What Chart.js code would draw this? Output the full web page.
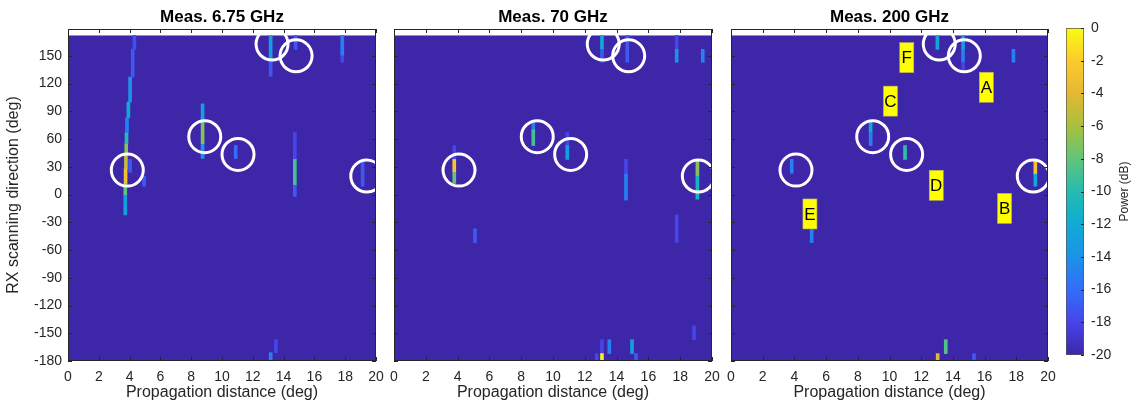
<!DOCTYPE html>
<html>
<head>
<meta charset="utf-8">
<script src="https://cdn.jsdelivr.net/npm/chart.js@4"></script>
<style>
  body { margin: 0; background: #fff; }
  .box { position: absolute; top: 0; height: 405px; }
</style>
</head>
<body>
<div class="box" style="left:0;width:392px"><canvas id="p1"></canvas></div>
<div class="box" style="left:380px;width:348px"><canvas id="p2"></canvas></div>
<div class="box" style="left:716px;width:348px"><canvas id="p3"></canvas></div>
<div class="box" style="left:1052px;width:85px"><canvas id="cbar"></canvas></div>
<script>
const X_TICKS = [0, 2, 4, 6, 8, 10, 12, 14, 16, 18, 20];
const Y_TICKS = [-180, -150, -120, -90, -60, -30, 0, 30, 60, 90, 120, 150];
const CB_TICKS = [-20, -18, -16, -14, -12, -10, -8, -6, -4, -2, 0];
const TITLES = ['Meas. 6.75 GHz', 'Meas. 70 GHz', 'Meas. 200 GHz'];
const DATA_TOP = 172;

// streaks: distance, angle from, angle to, power (dB)
const P1_X    = [3.72, 3.72, 3.74, 3.76, 3.78, 3.80, 3.83, 3.92, 4.03, 4.20, 4.31, 4.03, 4.94, 8.74, 8.74, 8.74, 10.89, 13.16, 13.16, 14.78, 17.81, 17.81, 14.73, 14.73, 14.73, 19.13, 13.16, 13.5];
const P1_FROM = [-22, 0, 12, 28, 42, 55, 67, 83, 100, 127, 157, 24, 9, 39, 55, 78, 39, 144, 128, 157, 150, 143, 38, 10, -2, 9, -180, -171];
const P1_TO   = [0, 12, 28, 42, 55, 67, 83, 100, 127, 157, 172, 38, 20, 55, 78, 98, 53, 172, 144, 172, 172, 150, 67, 38, 10, 35, -171, -157];
const P1_DB   = [-13, -8, -3, -5, -7, -10, -15, -12, -14, -17, -17.5, -17, -17, -14, -7, -13, -16, -13, -17, -17, -15, -18, -18, -9, -17, -17, -15, -18];

const P2_X    = [3.79, 3.79, 3.79, 8.76, 8.76, 10.9, 10.9, 13.08, 13.08, 14.67, 17.78, 17.78, 19.42, 14.59, 14.59, 19.08, 19.08, 5.09, 17.78, 18.87, 13.08, 13.08, 12.75, 13.54, 14.97, 15.22];
const P2_FROM = [38, 24, 12, 70, 53, 53, 38, 157, 143, 143, 157, 143, 143, 22, -6, 20, -5, -52, -52, -157, -172, -180, -180, -172, -172, -180];
const P2_TO   = [53, 38, 24, 78, 70, 67, 53, 172, 157, 172, 172, 157, 157, 38, 22, 36, 20, -37, -22, -142, -157, -172, -172, -157, -157, -172];
const P2_DB   = [-18, -2.5, -8, -15, -9, -18, -13, -12, -17, -17, -18, -14, -15, -18, -15, -7, -11, -17, -18, -18, -18, -0.5, -18, -15, -13, -17];

const P3_X    = [3.83, 8.81, 8.81, 10.98, 13.02, 14.64, 14.64, 14.64, 17.82, 19.2, 19.2, 5.09, 13.55, 13.04, 15.33];
const P3_FROM = [23, 67, 53, 38, 157, 157, 143, 132, 143, 22, 9, -52, -172, -180, -180];
const P3_TO   = [38, 78, 67, 53, 172, 172, 157, 143, 157, 36, 22, -38, -157, -172, -172];
const P3_DB   = [-15, -12, -15, -9.5, -12.5, -13, -15, -18, -15, -3, -12.5, -15, -8.5, -4, -17];

// white rings
const CIRCLE_Y    = [26.4, 62.6, 43.4, 162.7, 150, 20];
const P1_CIRCLE_X = [3.85, 8.88, 11.04, 13.25, 14.81, 19.4];
const P2_CIRCLE_X = [4.09, 9.01, 11.11, 13.16, 14.76, 19.14];
const P3_CIRCLE_X = [4.10, 8.94, 11.08, 13.14, 14.72, 19.07];

// yellow tags on the 200 GHz panel
const TAG_TEXT = ['F', 'A', 'C', 'D', 'E', 'B'];
const TAG_X    = [11.09, 16.11, 10.06, 12.95, 4.98, 17.26];
const TAG_Y    = [148, 116, 101, 10, -21, -15];

const PARULA = [
  [0.0, 62, 38, 168], [0.1, 71, 68, 234], [0.2, 50, 110, 250], [0.3, 28, 146, 232],
  [0.4, 14, 172, 212], [0.5, 36, 187, 176], [0.6, 98, 196, 120], [0.7, 168, 192, 62],
  [0.8, 228, 184, 52], [0.9, 253, 202, 44], [1.0, 249, 251, 20]
];

function parula(db) {
  const t = Math.min(1, Math.max(0, (db + 20) / 20));
  for (let i = 1; i < PARULA.length; i++) {
    if (t <= PARULA[i][0]) {
      const a = PARULA[i - 1], b = PARULA[i];
      const f = (t - a[0]) / (b[0] - a[0]);
      const c = [1, 2, 3].map(k => Math.round(a[k] + (b[k] - a[k]) * f));
      return `rgb(${c[0]},${c[1]},${c[2]})`;
    }
  }
  return 'rgb(249,251,20)';
}

const AXIS_COLOR = '#262626';
const FONT = "'Liberation Sans', Arial, sans-serif";

function noPad(axis) {
  axis.paddingLeft = 0;
  axis.paddingRight = 0;
  axis.paddingTop = 0;
  axis.paddingBottom = 0;
}

function makePanel(id, idx, xs, from, to, db, circleX, leftWidth, withTags) {
  const decor = {
    id: 'decor' + idx,
    beforeDatasetsDraw(chart) {
      const {ctx, scales: {x, y}} = chart;
      const x0 = x.getPixelForValue(0), x1 = x.getPixelForValue(20);
      const yb = y.getPixelForValue(-180), yt = y.getPixelForValue(DATA_TOP);
      ctx.save();
      ctx.fillStyle = parula(-20);
      ctx.fillRect(x0, yt, x1 - x0, yb - yt);
      ctx.restore();
    },
    afterDatasetsDraw(chart) {
      const {ctx, chartArea: a, scales: {x, y}} = chart;
      ctx.save();
      if (withTags) {
        ctx.font = '17px ' + FONT;
        ctx.textAlign = 'center';
        ctx.textBaseline = 'middle';
        TAG_TEXT.forEach((t, i) => {
          const px = x.getPixelForValue(TAG_X[i]), py = y.getPixelForValue(TAG_Y[i]);
          ctx.fillStyle = '#ffff00';
          ctx.fillRect(px - 7, py - 15, 14, 30);
          ctx.strokeStyle = '#b8b060';
          ctx.lineWidth = 0.6;
          ctx.strokeRect(px - 7, py - 15, 14, 30);
          ctx.fillStyle = '#000';
          ctx.fillText(t, px, py + 1);
        });
      }
      ctx.strokeStyle = AXIS_COLOR;
      ctx.lineWidth = 1;
      ctx.beginPath();
      X_TICKS.forEach(v => {
        const px = Math.round(x.getPixelForValue(v)) + 0.5;
        ctx.moveTo(px, a.bottom); ctx.lineTo(px, a.bottom - 4);
        ctx.moveTo(px, a.top); ctx.lineTo(px, a.top + 4);
      });
      Y_TICKS.forEach(v => {
        const py = Math.round(y.getPixelForValue(v)) + 0.5;
        ctx.moveTo(a.left, py); ctx.lineTo(a.left + 4, py);
        ctx.moveTo(a.right, py); ctx.lineTo(a.right - 4, py);
      });
      ctx.stroke();
      ctx.strokeRect(a.left + 0.5, a.top + 0.5, a.right - a.left - 1, a.bottom - a.top - 1);
      ctx.restore();
    }
  };

  return new Chart(document.getElementById(id), {
    type: 'bar',
    data: {
      datasets: [
        {
          type: 'scatter',
          data: circleX.map((v, i) => ({x: v, y: CIRCLE_Y[i]})),
          pointRadius: 16,
          pointBorderWidth: 3,
          pointBorderColor: '#ffffff',
          pointBackgroundColor: 'rgba(0,0,0,0)',
          clip: 0,
          order: 0
        },
        {
          data: xs.map((v, i) => ({x: v, y: [from[i], to[i]]})),
          backgroundColor: db.map(parula),
          borderWidth: 0,
          barThickness: 3,
          grouped: false,
          clip: 0,
          order: 1
        }
      ]
    },
    options: {
      responsive: true,
      maintainAspectRatio: false,
      animation: false,
      layout: {padding: {right: 16}, autoPadding: false},
      plugins: {
        legend: {display: false},
        tooltip: {enabled: false},
        title: {
          display: true,
          text: TITLES[idx],
          fullSize: false,
          color: '#000',
          font: {family: FONT, size: 17, weight: 'bold', lineHeight: 1},
          padding: {top: 9, bottom: 3}
        }
      },
      scales: {
        x: {
          type: 'linear',
          min: 0,
          max: 20,
          offset: false,
          grid: {display: false, drawTicks: false},
          border: {display: false},
          afterBuildTicks: axis => { axis.ticks = X_TICKS.map(v => ({value: v})); },
          afterFit: axis => { axis.height = 44; noPad(axis); },
          ticks: {color: AXIS_COLOR, font: {family: FONT, size: 14}, padding: 8, maxRotation: 0, autoSkip: false},
          title: {
            display: true,
            text: 'Propagation distance (deg)',
            color: AXIS_COLOR,
            font: {family: FONT, size: 16},
            padding: {top: 0, bottom: 3}
          }
        },
        y: {
          type: 'linear',
          min: -180,
          max: 179,
          grid: {display: false, drawTicks: false},
          border: {display: false},
          afterBuildTicks: axis => { axis.ticks = Y_TICKS.map(v => ({value: v})); },
          afterFit: axis => { axis.width = leftWidth; noPad(axis); },
          ticks: {display: idx === 0, color: AXIS_COLOR, font: {family: FONT, size: 14}, padding: 6, autoSkip: false},
          title: {
            display: idx === 0,
            text: 'RX scanning direction (deg)',
            color: AXIS_COLOR,
            font: {family: FONT, size: 16},
            padding: {top: 4, bottom: 0}
          }
        }
      }
    },
    plugins: [decor]
  });
}

makePanel('p1', 0, P1_X, P1_FROM, P1_TO, P1_DB, P1_CIRCLE_X, 68, false);
makePanel('p2', 1, P2_X, P2_FROM, P2_TO, P2_DB, P2_CIRCLE_X, 14, false);
makePanel('p3', 2, P3_X, P3_FROM, P3_TO, P3_DB, P3_CIRCLE_X, 15, true);

// colorbar
const cbDecor = {
  id: 'cbDecor',
  afterDatasetsDraw(chart) {
    const {ctx, chartArea: a, scales: {y}} = chart;
    ctx.save();
    ctx.strokeStyle = AXIS_COLOR;
    ctx.lineWidth = 1;
    ctx.beginPath();
    CB_TICKS.forEach(v => {
      const py = Math.round(y.getPixelForValue(v)) + 0.5;
      ctx.moveTo(a.right, py); ctx.lineTo(a.right - 3, py);
    });
    ctx.stroke();
    ctx.translate(73, (a.top + a.bottom) / 2);
    ctx.rotate(-Math.PI / 2);
    ctx.fillStyle = AXIS_COLOR;
    ctx.font = '12px ' + FONT;
    ctx.textAlign = 'center';
    ctx.textBaseline = 'middle';
    ctx.fillText('Power (dB)', 0, 0);
    ctx.restore();
  }
};

new Chart(document.getElementById('cbar'), {
  type: 'bar',
  data: {
    labels: ['Power'],
    datasets: [{
      data: [[-20, 0]],
      backgroundColor: ctx => {
        const area = ctx.chart.chartArea;
        if (!area) return parula(-20);
        const g = ctx.chart.ctx.createLinearGradient(0, area.bottom, 0, area.top);
        PARULA.forEach(s => g.addColorStop(s[0], `rgb(${s[1]},${s[2]},${s[3]})`));
        return g;
      },
      borderColor: '#555',
      borderWidth: 1,
      borderSkipped: false,
      barPercentage: 1,
      categoryPercentage: 1
    }]
  },
  options: {
    responsive: true,
    maintainAspectRatio: false,
    animation: false,
    layout: {padding: {left: 14, top: 28, bottom: 50}, autoPadding: false},
    plugins: {legend: {display: false}, tooltip: {enabled: false}},
    scales: {
      x: {display: false},
      y: {
        position: 'right',
        min: -20,
        max: 0,
        grid: {display: false, drawTicks: false},
        border: {display: false},
        afterBuildTicks: axis => { axis.ticks = CB_TICKS.map(v => ({value: v})); },
        afterFit: axis => { axis.width = 53; noPad(axis); },
        ticks: {color: AXIS_COLOR, font: {family: FONT, size: 14}, padding: 7}
      }
    }
  },
  plugins: [cbDecor]
});
</script>
</body>
</html>
